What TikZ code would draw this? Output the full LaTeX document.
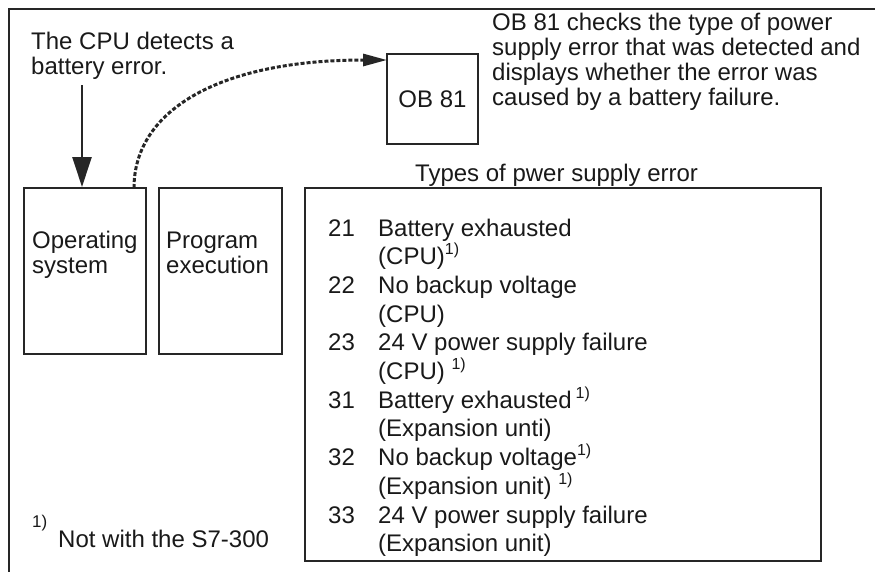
\documentclass[tikz,border=0pt]{standalone}
\usepackage{fontspec}
\setmainfont{Liberation Sans}
\usetikzlibrary{arrows.meta}
\newcommand{\mlines}[1]{\begin{tabular}[t]{@{}l@{}}#1\end{tabular}}
\newcommand{\fnm}{\raisebox{0.42em}[0pt][0pt]{\fontsize{16}{16}\selectfont 1)}}
\begin{document}
\begin{tikzpicture}[x=1pt,y=-1pt,
  ink/.style={draw=black!85},
  boxnode/.style={ink,line width=2pt,inner sep=0pt},
  txt/.style={inner sep=0pt,anchor=base west,text=black!90,font=\fontsize{24}{25}\selectfont},
  listtxt/.style={inner sep=0pt,anchor=base west,text=black!90,font=\fontsize{24}{28.7}\selectfont},
  frameline/.style={draw=black!85,line width=2.6pt}]
\useasboundingbox (0,0) rectangle (875,571);
% outer frame (top and left edges)
\coordinate (ftl) at (9,9);
\coordinate (ftr) at (880,9);
\coordinate (fbl) at (9,580);
\draw[frameline] (ftr) -- (ftl) -- (fbl);
% boxes
\node[boxnode,minimum width=122pt,minimum height=166pt] (os) at (85,271) {};
\node[boxnode,minimum width=123pt,minimum height=166pt] (pe) at (220.5,271) {};
\node[boxnode,minimum width=516pt,minimum height=373pt] (types) at (563,374.5) {};
\node[boxnode,minimum width=91pt,minimum height=90pt,font=\fontsize{24}{25}\selectfont,text=black!90] (ob) at (432.5,99) {OB 81};
% texts
\node[txt] (cpu) at (31,49) {\mlines{The CPU detects a\\battery error.}};
\node[txt] (obtxt) at (492,30) {\mlines{OB 81 checks the type of power\\supply error that was detected and\\displays whether the error was\\caused by a battery failure.}};
\node[txt] (typeslbl) at (415,181) {Types of pwer supply error};
\node[txt] (ostxt) at (32,248) {\mlines{Operating\\system}};
\node[txt] (petxt) at (166,248) {\mlines{Program\\execution}};
\node[listtxt] (nums) at (328,236) {\mlines{21\\[28.7pt]22\\[28.7pt]23\\[28.7pt]31\\[28.7pt]32\\[28.7pt]33}};
\node[listtxt] (items) at (378,236) {\mlines{Battery exhausted\\(CPU)\fnm\\No backup voltage\\(CPU)\\24 V power supply failure\\(CPU) \fnm\\Battery exhausted\,\fnm\\(Expansion unti)\\No backup voltage\fnm\\(Expansion unit) \fnm\\24 V power supply failure\\(Expansion unit)}};
\node[txt,font=\fontsize{17}{17}\selectfont] (fnmark) at (32,527) {1)};
\node[txt] (fntxt) at (58,547) {Not with the S7-300};
% arrows
\coordinate (cpuarrow) at (82,85);
\draw[ink,line width=2.6pt,-{Triangle[length=30pt,width=19pt]}] (cpuarrow) -- (cpuarrow |- os.north);
\coordinate (osout) at (134,188);
\coordinate (obin) at (387,60);
\draw[ink,line width=3pt,dash pattern=on 4pt off 2pt,-{Triangle[length=24pt,width=12pt]}]
  (osout) .. controls (134,110) and (220,60) .. (obin);
\end{tikzpicture}
\end{document}
